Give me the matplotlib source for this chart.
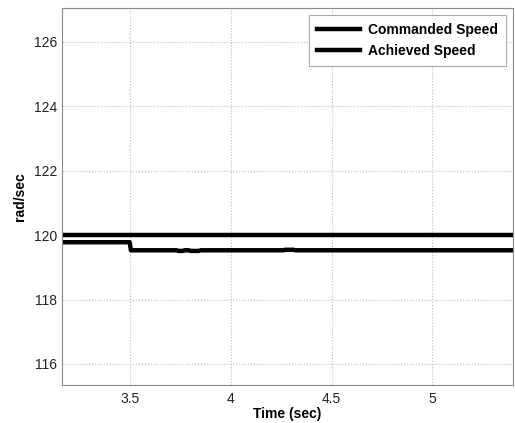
import matplotlib
matplotlib.use("Agg")
import matplotlib.pyplot as plt

# speed trace (rad/sec) vs time (sec)
time_cmd = [3.0, 5.6]
speed_cmd = [120.0, 120.0]

time_ach = [3.0, 3.497, 3.503, 3.73, 3.74, 3.76, 3.77, 3.79, 3.80, 3.84, 3.85,
            4.26, 4.27, 4.31, 4.32, 5.6]
speed_ach = [119.78, 119.78, 119.53, 119.53, 119.51, 119.51, 119.53, 119.53, 119.51,
             119.51, 119.53, 119.53, 119.545, 119.545, 119.53, 119.53]

labels = ["Commanded Speed", "Achieved Speed"]
x_ticks = [3.5, 4, 4.5, 5]
y_ticks = [116, 118, 120, 122, 124, 126]

plt.rcParams["font.family"] = ["Liberation Sans", "DejaVu Sans"]

fig = plt.figure(figsize=(5.15, 4.23), dpi=100)
ax = fig.add_axes([0.12, 0.09, 0.876, 0.891])

ax.plot(time_cmd, speed_cmd, color="black", lw=3.2, label=labels[0])
ax.plot(time_ach, speed_ach, color="black", lw=3.2, label=labels[1])

ax.set_xlim(3.16, 5.40)
ax.set_ylim(115.35, 127.05)
ax.set_xticks(x_ticks)
ax.set_xticklabels(["3.5", "4", "4.5", "5"])
ax.set_yticks(y_ticks)
ax.tick_params(direction="in", length=0, labelsize=10, colors="#222222")
ax.tick_params(axis="x", pad=5)
ax.grid(True, color="#bbbbbb", linestyle=":", linewidth=0.8)
for s in ax.spines.values():
    s.set_color("#888888")
    s.set_linewidth(0.8)

ax.set_xlabel("Time (sec)", fontweight="bold", fontsize=10, labelpad=1)
ax.set_ylabel("rad/sec", fontweight="bold", fontsize=10, labelpad=5)

leg = ax.legend(loc="upper right", prop={"weight": "bold", "size": 10},
                fancybox=False, framealpha=1, edgecolor="#aaaaaa",
                handlelength=3.1, handletextpad=0.6, borderaxespad=0.5,
                labelspacing=0.55, borderpad=0.55)
leg.get_frame().set_linewidth(0.8)

fig.savefig("out.png", dpi=100)
